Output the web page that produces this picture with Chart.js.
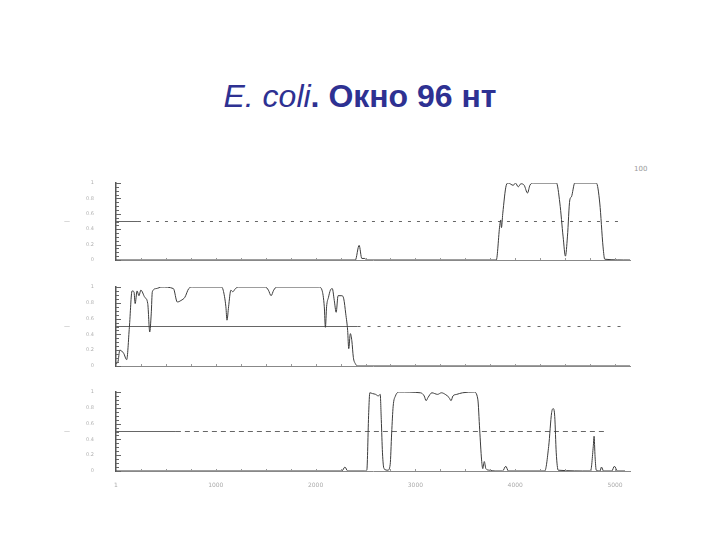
<!DOCTYPE html>
<html>
<head>
<meta charset="utf-8">
<script src="https://cdn.jsdelivr.net/npm/chart.js@4/dist/chart.umd.min.js"></script>
<style>
  html, body { margin:0; padding:0; background:#fff; }
  body { width:720px; height:540px; position:relative; overflow:hidden; }
  canvas { position:absolute; left:0; }
  #title { position:absolute; left:0; top:78px; width:720px; text-align:center; line-height:37px;
           font-family:"Liberation Sans", Arial, sans-serif; font-weight:bold; font-size:32px; color:#2e3192; }
  #title i { font-weight:normal; }
  #corner { position:absolute; left:634px; top:165px; font-family:"DejaVu Sans", sans-serif; font-size:7px; color:#999; }
</style>
</head>
<body>
<div id="title"><i>E. coli</i>. Окно 96 нт</div>
<div id="corner">100</div>
<canvas id="c1" width="720" height="120" style="top:160px"></canvas>
<canvas id="c2" width="720" height="120" style="top:270px"></canvas>
<canvas id="c3" width="720" height="125" style="top:375px"></canvas>
<script>
// ---------- data ----------
const xTickValues = [0, 1000, 2000, 3000, 4000, 5000];
const xTickLabels = ['1', '1000', '2000', '3000', '4000', '5000'];
const yTickValues = [0, 0.2, 0.4, 0.6, 0.8, 1];
const yTickLabels = ['0', '0.2', '0.4', '0.6', '0.8', '1'];
const midlineLevel = 0.5;

const panel1X = [0, 2398, 2436, 2463, 2493, 2512, 3810, 3845, 3855, 3862, 3875, 3910, 3930, 3980, 4003, 4030, 4057, 4090, 4123, 4147, 4180, 4413, 4447, 4480, 4503, 4523, 4547, 4563, 4597, 4813, 4847, 4880, 4897, 5150];
const panel1Y = [0, 0, 0.19, 0.02, 0.02, 0, 0, 0.45, 0.52, 0.42, 0.6, 0.97, 1.0, 0.97, 1.0, 0.95, 0.99, 0.97, 0.87, 0.97, 1.0, 1.0, 0.74, 0.30, 0.05, 0.30, 0.78, 0.82, 1.0, 1.0, 0.74, 0.17, 0.01, 0];

const panel2X = [0, 19, 38, 77, 107, 134, 161, 180, 192, 211, 230, 249, 288, 318, 338, 353, 364, 403, 460, 575, 614, 652, 690, 729, 767, 1055, 1074, 1101, 1112, 1128, 1151, 1170, 1197, 1228, 1496, 1527, 1554, 1580, 1611, 2033, 2064, 2087, 2098, 2110, 2129, 2148, 2167, 2187, 2206, 2225, 2263, 2282, 2302, 2321, 2332, 2348, 2363, 2378, 2398, 2424, 5150];
const panel2Y = [0.03, 0.05, 0.2, 0.16, 0.08, 0.49, 0.95, 0.94, 0.79, 0.95, 0.89, 0.96, 0.87, 0.79, 0.43, 0.66, 0.94, 0.98, 1.0, 0.98, 0.81, 0.83, 0.87, 0.98, 1.0, 1.0, 0.96, 0.75, 0.58, 0.75, 0.96, 0.94, 0.98, 1.0, 1.0, 0.96, 0.89, 0.96, 1.0, 1.0, 0.96, 0.75, 0.49, 0.75, 0.87, 0.96, 0.98, 0.83, 0.68, 0.89, 0.89, 0.85, 0.66, 0.45, 0.22, 0.41, 0.32, 0.11, 0.03, 0, 0];

const panel3X = [0, 2263, 2294, 2321, 2493, 2513, 2532, 2543, 2570, 2601, 2628, 2647, 2658, 2670, 2685, 2724, 2747, 2762, 2777, 2800, 2839, 3050, 3088, 3107, 3126, 3165, 3222, 3261, 3299, 3337, 3357, 3376, 3414, 3472, 3587, 3625, 3644, 3663, 3675, 3690, 3706, 3740, 3798, 3874, 3905, 3932, 4296, 4335, 4365, 4381, 4396, 4411, 4431, 4755, 4782, 4790, 4800, 4812, 4850, 4864, 4885, 4967, 4994, 5024, 5100];
const panel3Y = [0, 0, 0.05, 0, 0, 0.01, 0.74, 0.99, 0.98, 0.97, 0.95, 0.97, 0.65, 0.23, 0.03, 0.01, 0.08, 0.48, 0.82, 0.95, 1.0, 0.99, 0.95, 0.89, 0.93, 0.99, 0.97, 0.99, 0.97, 0.93, 0.89, 0.95, 0.97, 0.99, 1.0, 0.91, 0.52, 0.14, 0.03, 0.12, 0.03, 0.01, 0, 0, 0.06, 0, 0, 0.31, 0.74, 0.79, 0.69, 0.23, 0.01, 0, 0.31, 0.44, 0.18, 0.01, 0, 0.05, 0, 0, 0.06, 0, 0];

const midSolidEnd = [220, 2420, 600];
const midEnd = [5080, 5080, 4910];
// ---------------------------

const pts = (xs, ys) => xs.map((x, i) => ({ x, y: ys[i] }));

const decor = {
  id: 'decor',
  afterDraw(chart) {
    const ctx = chart.ctx, ys = chart.scales.y, xs = chart.scales.x, a = chart.chartArea;
    ctx.save();
    ctx.strokeStyle = '#666';
    ctx.lineWidth = 1;
    for (let i = 0; i <= 20; i++) {
      const v = i * 0.05;
      const py = Math.round(ys.getPixelForValue(v)) + 0.5;
      const major = i % 4 === 0;
      ctx.beginPath();
      ctx.moveTo(a.left, py);
      ctx.lineTo(a.left + (major ? 5 : 3), py);
      ctx.stroke();
    }
    ctx.strokeStyle = '#999';
    for (let v = 250; v < xs.max; v += 250) {
      const px = Math.round(xs.getPixelForValue(v)) + 0.5;
      ctx.beginPath();
      ctx.moveTo(px, a.bottom);
      ctx.lineTo(px, a.bottom - 2);
      ctx.stroke();
    }
    ctx.fillStyle = '#aaa';
    ctx.font = '6px "DejaVu Sans"';
    ctx.textBaseline = 'middle';
    ctx.fillText('—', 64, ys.getPixelForValue(midlineLevel));
    ctx.restore();
  }
};

function makeChart(id, idx, xs, ys, dash, showX, xAxisH, target) {
  const maxX = 5150;
  const chart = new Chart(document.getElementById(id), {
    type: 'line',
    data: {
      datasets: [
        { data: pts(xs, ys), borderColor: '#3c3c3c', borderWidth: 1, pointRadius: 0,
          cubicInterpolationMode: 'monotone' },
        { data: pts([0, midSolidEnd[idx]], [midlineLevel, midlineLevel]), borderColor: '#666',
          borderWidth: 1, pointRadius: 0 },
        { data: pts([midSolidEnd[idx], midEnd[idx]], [midlineLevel, midlineLevel]), borderColor: '#666',
          borderWidth: 1, pointRadius: 0, borderDash: dash }
      ]
    },
    options: {
      responsive: false,
      animation: false,
      layout: { padding: { left: 0, right: 90, top: 10, bottom: 0 } },
      plugins: { legend: { display: false }, tooltip: { enabled: false } },
      scales: {
        x: {
          type: 'linear', min: 0, max: maxX,
          afterBuildTicks: s => { s.ticks = xTickValues.map(v => ({ value: v })); },
          afterFit: s => { s.height = xAxisH; },
          grid: { display: false },
          border: { color: '#888', width: 1 },
          ticks: {
            display: showX, autoSkip: false, maxRotation: 0, padding: 3,
            color: '#aaa', font: { size: 6, family: 'DejaVu Sans' },
            callback: v => { const i = xTickValues.indexOf(v); return i >= 0 ? xTickLabels[i] : ''; }
          }
        },
        y: {
          min: 0, max: 1,
          afterBuildTicks: s => { s.ticks = yTickValues.map(v => ({ value: v })); },
          afterFit: s => { s.width = 116; },
          grid: { display: false },
          border: { color: '#555', width: 1.5 },
          ticks: {
            padding: 14, color: '#b0b0b0', font: { size: 5, family: 'DejaVu Sans' },
            callback: v => { const i = yTickValues.findIndex(t => Math.abs(t - v) < 1e-6); return i >= 0 ? yTickLabels[i] : ''; }
          }
        }
      }
    },
    plugins: [decor]
  });
  // nudge layout padding so the plot area lands where the reference has it
  for (let k = 0; k < 5; k++) {
    const a = chart.chartArea, p = chart.options.layout.padding;
    p.top = Math.max(0, p.top + (target.top - a.top));
    p.bottom = Math.max(0, p.bottom + (a.bottom - target.bottom));
    p.left = Math.max(0, p.left + (target.left - a.left));
    p.right = Math.max(0, p.right + (a.right - target.right));
    chart.update();
  }
  return chart;
}

makeChart('c1', 0, panel1X, panel1Y, [3, 6], false, 8, { left: 116, right: 630, top: 23, bottom: 100 });
makeChart('c2', 1, panel2X, panel2Y, [3, 7], false, 8, { left: 116, right: 630, top: 17, bottom: 96 });
makeChart('c3', 2, panel3X, panel3Y, [5, 4], true, 16, { left: 116, right: 630, top: 18, bottom: 96 });
</script>
</body>
</html>
